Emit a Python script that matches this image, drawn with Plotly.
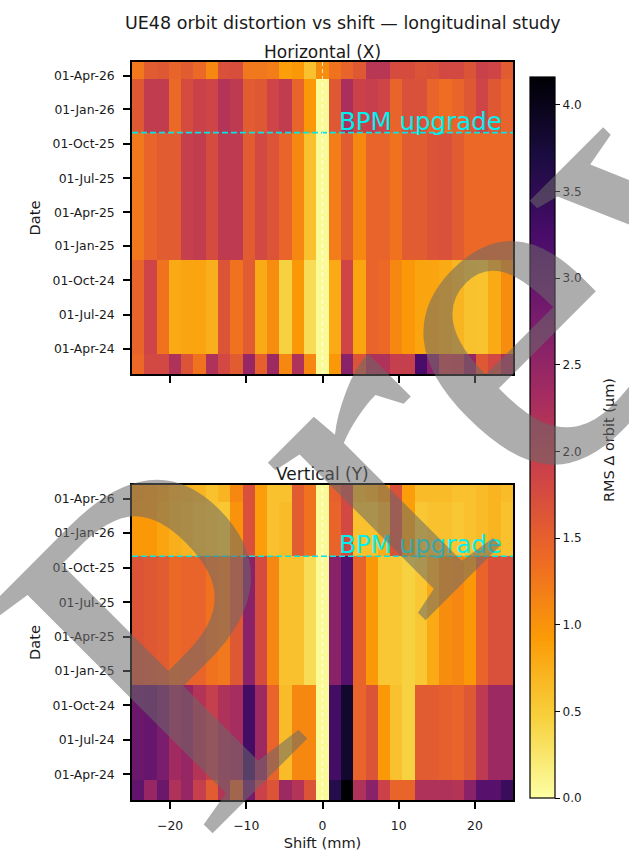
import numpy as np
import plotly.graph_objects as go
from plotly.subplots import make_subplots

# ---------------- data ----------------
# shift bin edges (mm): 31 bins from -25 to 25
shift_edges = np.linspace(-25, 25, 32)

# measurement-campaign bin edges (dates), 5 campaigns
date_edges = ["2024-01-24", "2024-03-17", "2024-11-24", "2025-10-31", "2026-03-23", "2026-05-08"]

bpm_upgrade = "2025-10-31"

# RMS delta orbit (um), rows = campaigns (oldest first), cols = shift bins
rms_x = [
    [1.40, 1.80, 1.80, 2.20, 1.65, 1.30, 2.20, 1.80, 1.55, 2.45, 1.50, 2.40, 1.10, 2.20, 1.10, 0.05,
     0.95, 2.60, 1.65, 2.20, 2.20, 1.95, 1.95, 3.25, 2.60, 1.90, 1.95, 2.45, 1.60, 1.80, 2.20],
    [1.45, 1.85, 1.30, 0.80, 0.85, 0.85, 0.75, 1.65, 1.30, 1.55, 0.80, 1.05, 0.45, 0.95, 0.35, 0.05,
     0.80, 1.85, 0.85, 1.45, 1.40, 1.10, 0.95, 0.85, 0.85, 0.80, 0.70, 0.60, 0.58, 0.80, 1.05],
    [1.25, 1.45, 1.55, 1.55, 1.95, 2.00, 1.75, 2.05, 2.05, 1.55, 1.80, 1.65, 1.45, 1.10, 0.60, 0.05,
     1.20, 1.55, 1.10, 1.45, 1.45, 1.30, 1.55, 1.55, 1.65, 1.70, 1.55, 1.40, 1.40, 1.40, 1.40],
    [1.60, 2.00, 2.00, 1.40, 1.75, 1.90, 1.85, 2.15, 2.05, 1.55, 1.60, 1.85, 2.00, 1.45, 0.95, 0.05,
     1.60, 2.25, 1.90, 1.95, 1.85, 1.45, 1.70, 1.70, 1.45, 1.35, 1.45, 1.60, 1.85, 1.60, 1.45],
    [1.25, 1.55, 1.60, 1.45, 1.55, 1.40, 1.10, 1.70, 1.72, 1.25, 1.25, 1.20, 0.90, 0.95, 0.60, 1.05,
     1.30, 1.45, 1.60, 2.10, 2.10, 1.75, 1.75, 1.65, 1.70, 1.80, 1.80, 1.65, 1.90, 1.85, 1.55],
]

rms_y = [
    [3.00, 2.45, 2.90, 2.20, 2.45, 1.95, 1.55, 2.15, 1.50, 2.80, 1.90, 1.65, 2.40, 2.15, 1.65, 0.05,
     3.60, 4.16, 2.20, 2.60, 1.90, 1.45, 1.45, 2.20, 2.20, 2.20, 2.15, 2.60, 3.10, 3.10, 3.40],
    [2.90, 2.95, 2.75, 2.35, 2.45, 2.15, 1.95, 2.20, 2.30, 3.30, 2.40, 1.45, 0.65, 1.10, 1.10, 0.05,
     3.30, 3.85, 1.45, 1.65, 0.95, 0.60, 0.45, 1.55, 1.55, 1.50, 1.45, 1.60, 2.05, 2.40, 2.40],
    [1.65, 1.60, 1.55, 1.40, 1.45, 1.45, 1.30, 1.25, 1.60, 2.60, 1.75, 1.10, 0.60, 0.60, 0.35, 0.05,
     2.60, 3.10, 1.45, 0.95, 0.55, 0.55, 0.45, 0.55, 0.80, 1.05, 1.10, 0.95, 1.45, 1.70, 1.70],
    [0.95, 0.95, 0.85, 0.75, 0.70, 0.65, 0.60, 0.55, 1.00, 1.70, 0.90, 0.60, 0.65, 1.55, 1.30, 0.05,
     1.45, 1.80, 0.60, 0.60, 0.75, 1.70, 0.90, 0.55, 0.60, 0.60, 0.55, 0.60, 0.65, 0.70, 0.60],
    [1.00, 0.95, 0.90, 0.80, 0.75, 0.70, 0.60, 0.70, 1.10, 1.70, 0.90, 0.60, 0.60, 1.55, 1.30, 0.05,
     1.50, 1.80, 0.70, 0.80, 0.95, 1.70, 0.90, 0.65, 0.65, 0.65, 0.60, 0.60, 0.65, 0.70, 0.65],
]

x_ticks = [-20, -10, 0, 10, 20]
cbar_ticks = [0.0, 0.5, 1.0, 1.5, 2.0, 2.5, 3.0, 3.5, 4.0]
zmax = 4.16

# ---------------- figure ----------------
W, H = 629, 852
ML, MR, MT, MB = 132, 116, 62, 52
pw, ph = W - ML - MR, H - MT - MB


def px_x(p):
    return (p - ML) / pw


def px_y(p):
    return (H - MB - p) / ph


fig = make_subplots(rows=2, cols=1, shared_xaxes=True)

for i, z in enumerate([rms_x, rms_y]):
    fig.add_trace(go.Heatmap(x=shift_edges, y=date_edges, z=z, coloraxis="coloraxis",
                             hoverinfo="skip"), row=i + 1, col=1)

font = "DejaVu Sans"
txt = "#1a1a1a"

axis_common = dict(showline=True, linecolor="black", linewidth=1.5, mirror=True,
                   ticks="outside", ticklen=7, tickwidth=1.5, tickcolor="black",
                   showgrid=False, zeroline=False, automargin=False,
                   tickfont=dict(family=font, size=12.4, color=txt))

top_dom = [px_y(374), 1.0]
bot_dom = [0.0, px_y(485)]

fig.update_layout(
    width=W, height=H,
    margin=dict(l=ML, r=MR, t=MT, b=MB, autoexpand=False),
    paper_bgcolor="white", plot_bgcolor="white",
    font=dict(family=font, color=txt),
    showlegend=False,
    coloraxis=dict(
        colorscale="Inferno", reversescale=True, cmin=0, cmax=zmax,
        colorbar=dict(
            x=px_x(530), xanchor="left", xpad=0, thickness=25,
            len=(798 - 77) / ph, lenmode="fraction", y=px_y(798), yanchor="bottom", ypad=0,
            outlinecolor="black", outlinewidth=1.2,
            ticks="outside", ticklen=5, tickwidth=1.2, tickcolor="black",
            tickvals=cbar_ticks, ticktext=[f"{v:.1f}" for v in cbar_ticks],
            tickfont=dict(family=font, size=12, color=txt),
        ),
    ),
)

fig.update_xaxes(**axis_common, range=[-25, 25], tickvals=x_ticks)
fig.update_xaxes(showticklabels=False, row=1, col=1)
fig.update_xaxes(ticklabelstandoff=6,
                 title=dict(text="Shift (mm)", standoff=6, font=dict(family=font, size=14.6, color=txt)),
                 row=2, col=1)
fig.update_yaxes(**axis_common, type="date", range=[date_edges[0], date_edges[-1]],
                 tick0="2024-01-01", dtick="M3", tickformat="%d-%b-%y", ticklabelstandoff=6,
                 title=dict(text="Date", standoff=8, font=dict(family=font, size=14.6, color=txt)))
fig.layout.yaxis.domain = top_dom
fig.layout.yaxis2.domain = bot_dom

# BPM upgrade line + label, x=0 marker line
for ax in ["", "2"]:
    fig.add_shape(type="line", xref=f"x{ax} domain", yref=f"y{ax}", x0=0, x1=1,
                  y0=bpm_upgrade, y1=bpm_upgrade,
                  line=dict(color="#00e5e5", width=1.6, dash="6px,3px"))
    fig.add_shape(type="line", xref=f"x{ax}", yref=f"y{ax} domain", x0=0, x1=0, y0=0, y1=1,
                  line=dict(color="rgba(255,255,255,0.75)", width=1, dash="4px,3px"))
    fig.add_annotation(xref=f"x{ax}", yref=f"y{ax}", x=23.7, y=bpm_upgrade,
                       xanchor="right", yanchor="bottom", showarrow=False, text="BPM upgrade",
                       font=dict(family=font, size=24.5, color="#00f0f0"), borderpad=0, yshift=-4)

# titles
fig.add_annotation(xref="paper", yref="paper", x=px_x(343), y=px_y(23), showarrow=False,
                   text="UE48 orbit distortion vs shift — longitudinal study",
                   font=dict(family=font, size=17.5, color=txt), xanchor="center", yanchor="middle")
fig.add_annotation(xref="paper", yref="paper", x=0.5, y=px_y(52), showarrow=False,
                   text="Horizontal (X)", font=dict(family=font, size=17, color=txt),
                   xanchor="center", yanchor="middle")
fig.add_annotation(xref="paper", yref="paper", x=0.5, y=px_y(474), showarrow=False,
                   text="Vertical (Y)", font=dict(family=font, size=17, color=txt),
                   xanchor="center", yanchor="middle")
# colorbar label
fig.add_annotation(xref="paper", yref="paper", x=px_x(609), y=px_y(440), showarrow=False,
                   text="RMS Δ orbit (µm)", textangle=-90,
                   font=dict(family=font, size=14.5, color=txt), xanchor="center", yanchor="middle")

# watermark (rotated serif letters)
wm_font = dict(family="Liberation Serif", size=486, color="rgba(105,105,105,0.55)")
for letter, (cx, cy) in zip("Prev", [(180, 634), (360, 454), (495, 319), (657, 157)]):
    fig.add_annotation(xref="paper", yref="paper", x=px_x(cx), y=px_y(cy), showarrow=False,
                       text=letter, textangle=-45, font=wm_font,
                       xanchor="center", yanchor="middle")

fig.write_html("out.html", config={"displayModeBar": False},
               post_script="document.body.style.margin='0px';")
